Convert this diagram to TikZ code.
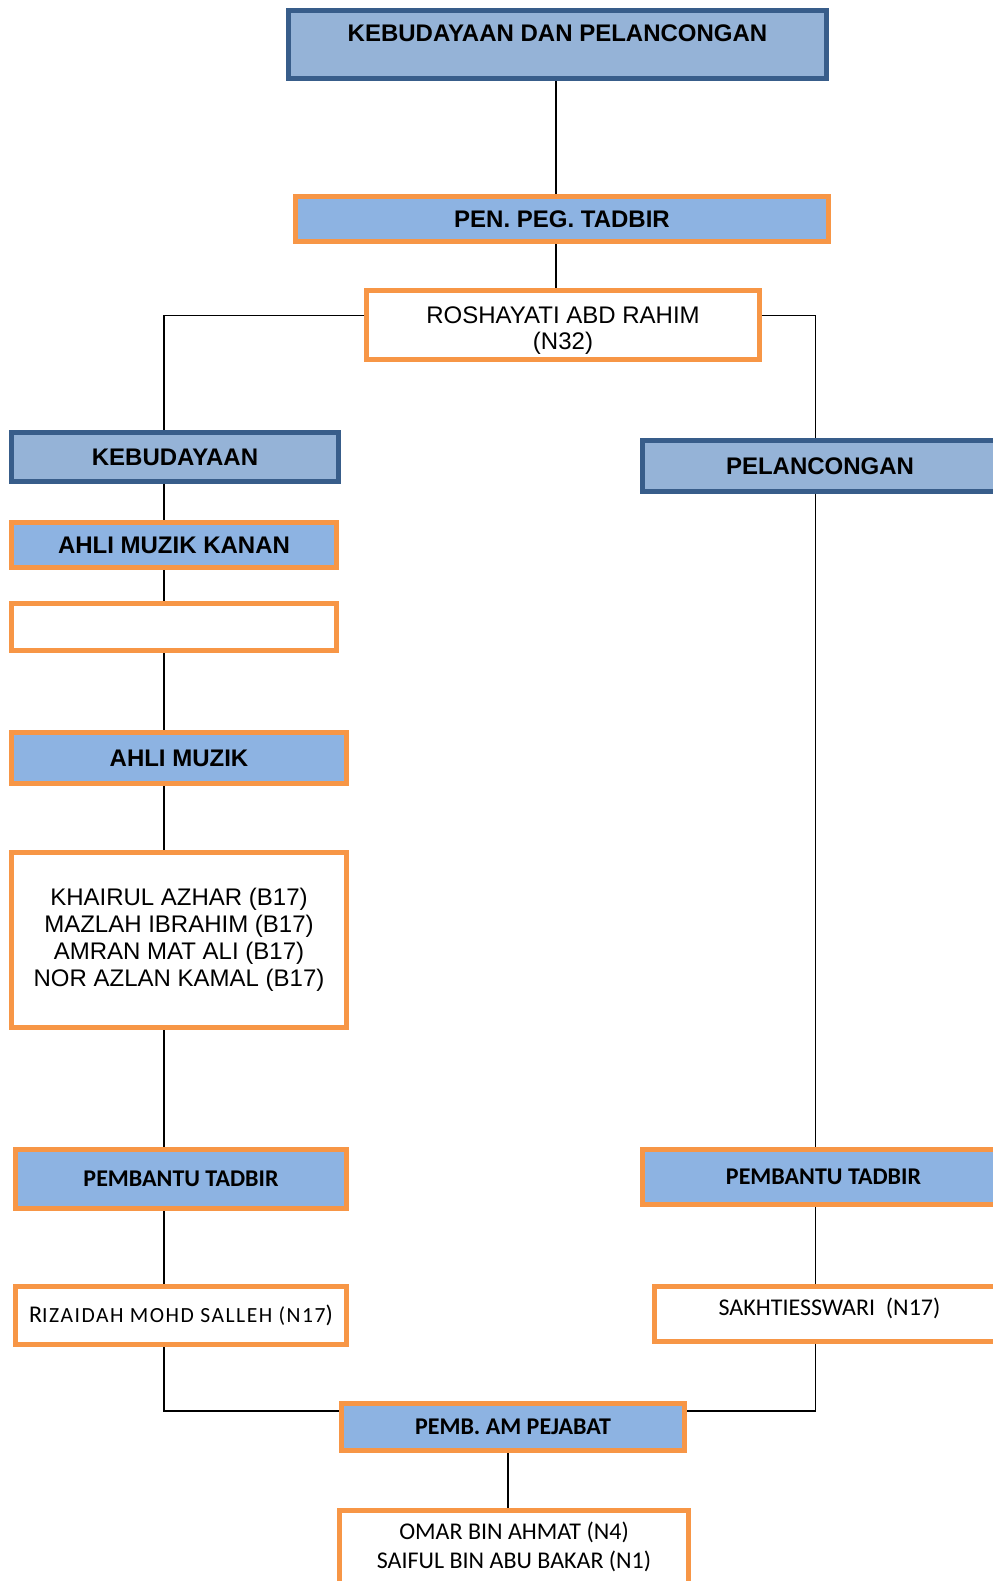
\documentclass[tikz,border=0pt]{standalone}
\usepackage{fontspec}
\setmainfont{Liberation Sans}
\newfontfamily\calibri{Carlito}
\newfontfamily\calibrisc[LetterSpace=7]{Carlito}
\usetikzlibrary{positioning}

\definecolor{azulborde}{HTML}{385D8A}
\definecolor{azulfondo}{HTML}{95B3D7}
\definecolor{azulclaro}{HTML}{8DB3E2}
\definecolor{naranja}{HTML}{F79646}

\tikzset{
  caja/.style={draw, line width=2.5pt, inner sep=0pt, align=center,
    font=\fontsize{12}{13.5}\selectfont},
  unidad/.style={caja, draw=azulborde, fill=azulfondo,
    font=\fontsize{12}{14}\selectfont\bfseries},
  cargo/.style={caja, draw=naranja, fill=azulclaro,
    font=\fontsize{12}{14}\selectfont\bfseries},
  cargoc/.style={cargo, font=\calibri\fontsize{12}{14}\selectfont\bfseries},
  nombre/.style={caja, draw=naranja, fill=white},
  namac/.style={nombre, font=\calibri\fontsize{12}{14}\selectfont},
  enlace/.style={line width=0.8pt}
}

\begin{document}
\begin{tikzpicture}[x=0.5pt, y=-0.5pt]
	\useasboundingbox (0,0) rectangle (992,1581);
	
	% Cabecera
	\node[unidad, minimum width=269pt, minimum height=34pt, text height=15.6pt, text depth=18.4pt] (kdp) at (557.5,44.5) {KEBUDAYAAN DAN PELANCONGAN};
	\node[cargo, minimum width=266.5pt, minimum height=22.75pt] (peg) at (562,219) {PEN. PEG. TADBIR};
	\node[nombre, minimum width=196.5pt, minimum height=34.5pt, font=\fontsize{12}{13}\selectfont] (rosh) at (563,325) {\rule{0pt}{14pt}ROSHAYATI ABD RAHIM\\(N32)};
	
	% Unidades
	\node[unidad, minimum width=163.5pt, minimum height=24.25pt] (keb) at (175,457) {KEBUDAYAAN};
	\node[unidad, minimum width=177.5pt, minimum height=25.25pt] (pel) at (820,466) {PELANCONGAN};
	
	% Rama izquierda
	\node[cargo, minimum width=162.5pt, minimum height=22.75pt] (kanan) at (174,545) {AHLI MUZIK KANAN};
	\node[nombre, minimum width=162.5pt, minimum height=23.5pt] (kosong) at (174,627) {};
	\node[cargo, minimum width=167.5pt, minimum height=25.5pt] (ahli) at (179,758) {AHLI MUZIK};
	\node[nombre, minimum width=167.5pt, minimum height=87.5pt] (pemuzik) at (179,940) {KHAIRUL AZHAR (B17)\\MAZLAH IBRAHIM (B17)\\AMRAN MAT ALI (B17)\\NOR AZLAN KAMAL (B17)};
	\node[cargoc, minimum width=165.5pt, minimum height=29.5pt] (ptkiri) at (181,1179) {PEMBANTU TADBIR};
	\node[namac, minimum width=165.5pt, minimum height=29pt] (riz) at (181,1315.5) {R{\calibrisc\fontsize{10.8}{14}\selectfont IZAIDAH MOHD SALLEH (N17})};
	
	% Rama derecha
	\node[cargoc, minimum width=181pt, minimum height=27.5pt] (ptkanan) at (823.5,1177) {PEMBANTU TADBIR};
	\node[namac, minimum width=175pt, minimum height=27.5pt, text height=14.25pt, text depth=13.25pt] (sak) at (829.5,1314) {SAKHTIESSWARI\ \ (N17)};
	
	% Pie
	\node[cargoc, minimum width=171.75pt, minimum height=23.75pt] (pemb) at (513,1427) {PEMB. AM PEJABAT};
	\node[namac, minimum width=174.75pt, minimum height=36.5pt, font=\calibri\fontsize{12}{14.7}\selectfont] (omar) at (514,1547) {OMAR BIN AHMAT (N4)\\SAIFUL BIN ABU BAKAR (N1)};
	
	% Ejes de las lineas
	\coordinate (ejeC) at (556,0);
	\coordinate (ejeL) at (164,315.5);
	\coordinate (ejeR) at (815.5,315.5);
	\coordinate (barra) at (0,1411);
	\coordinate (ejeB) at (508,0);
	
	% Lineas
	\draw[enlace] (kdp.south -| ejeC) -- (peg.north -| ejeC);
	\draw[enlace] (peg.south -| ejeC) -- (rosh.north -| ejeC);
	\draw[enlace] (rosh.west |- ejeL) -- (ejeL) -- (keb.north -| ejeL);
	\draw[enlace] (rosh.east |- ejeR) -- (ejeR) -- (pel.north -| ejeR);
	\foreach \a/\b in {keb/kanan, kanan/kosong, kosong/ahli, ahli/pemuzik, pemuzik/ptkiri, ptkiri/riz}
		\draw[enlace] (\a.south -| ejeL) -- (\b.north -| ejeL);
	\foreach \a/\b in {pel/ptkanan, ptkanan/sak}
		\draw[enlace] (\a.south -| ejeR) -- (\b.north -| ejeR);
	\draw[enlace] (riz.south -| ejeL) -- (ejeL |- barra) -- (pemb.west |- barra);
	\draw[enlace] (sak.south -| ejeR) -- (ejeR |- barra) -- (pemb.east |- barra);
	\draw[enlace] (pemb.south -| ejeB) -- (omar.north -| ejeB);
	
\end{tikzpicture}
\end{document}
